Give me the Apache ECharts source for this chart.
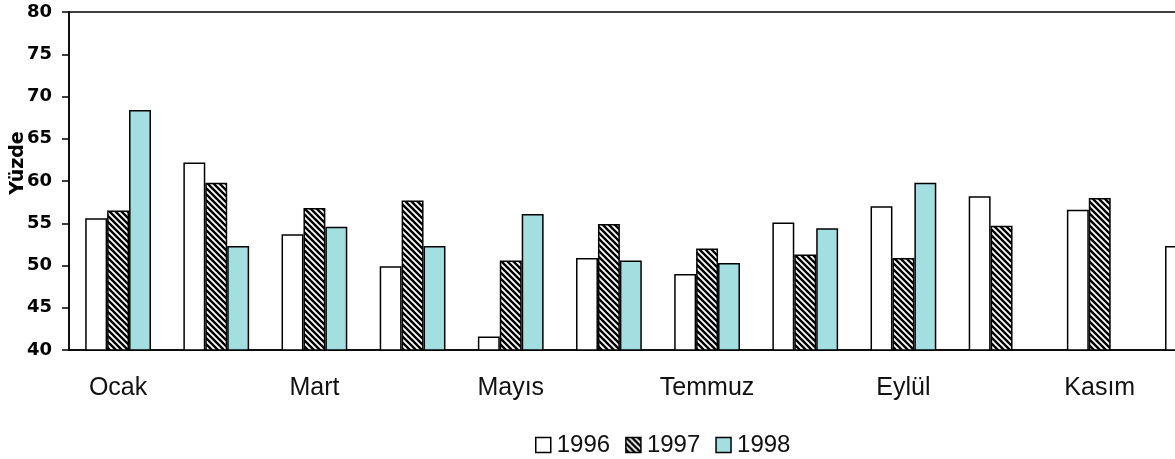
<!DOCTYPE html>
<html>
<head>
<meta charset="utf-8">
<script src="https://cdn.jsdelivr.net/npm/echarts@6/dist/echarts.min.js"></script>
<style>
  html, body { margin: 0; padding: 0; background: #fff; }
  #chart { width: 1175px; height: 459px; }
</style>
</head>
<body>
<div id="chart"></div>
<script>
// aylar
const months = ['Ocak', 'Şubat', 'Mart', 'Nisan', 'Mayıs', 'Haziran', 'Temmuz', 'Ağustos', 'Eylül', 'Ekim', 'Kasım', 'Aralık']
const years = ['1996', '1997', '1998']
const data1996 = [55.6, 62.2, 53.7, 49.9, 41.6, 50.9, 49.0, 55.1, 57.0, 58.2, 56.6, 52.3]
const data1997 = [56.5, 59.8, 56.8, 57.7, 50.6, 54.9, 52.0, 51.3, 50.9, 54.7, 58.0, null]
const data1998 = [68.4, 52.3, 54.6, 52.3, 56.1, 50.6, 50.3, 54.4, 59.8, null, null, null]
const yTicks = { min: 40, max: 80, step: 5 }

// taralı desen (1997)
function hatch() {
  const c = document.createElement('canvas')
  c.width = 6
  c.height = 6
  const g = c.getContext('2d')
  g.fillStyle = '#fff'
  g.fillRect(0, 0, 6, 6)
  g.strokeStyle = '#000'
  g.lineWidth = 2.4
  g.beginPath()
  g.moveTo(-1, -1); g.lineTo(7, 7)
  g.moveTo(-1, 5); g.lineTo(1, 7)
  g.moveTo(5, -1); g.lineTo(7, 1)
  g.stroke()
  return { image: c, repeat: 'repeat' }
}

const fills = ['#ffffff', hatch(), '#a3dfe0']
const values = [data1996, data1997, data1998]

const chart = echarts.init(document.getElementById('chart'))
chart.setOption({
  animation: false,
  grid: {
    left: 69,
    top: 12,
    bottom: 109,
    width: 1178,
    containLabel: false,
    outerBoundsMode: 'none',
    show: true,
    borderColor: '#000',
    borderWidth: 1.5
  },
  legend: {
    left: 530,
    top: 428,
    itemWidth: 15,
    itemHeight: 15,
    itemGap: 15,
    icon: 'rect',
    textStyle: {
      fontFamily: 'Liberation Sans',
      fontSize: 24,
      color: '#111',
      padding: [0, 0, 0, 1]
    },
    itemStyle: { borderColor: '#000', borderWidth: 1.5 },
    data: years
  },
  xAxis: {
    type: 'category',
    data: months,
    axisLine: { lineStyle: { color: '#000', width: 1.5 } },
    axisTick: { length: 6, interval: 0, lineStyle: { color: '#000', width: 1.5 } },
    axisLabel: {
      interval: 1,
      margin: 26,
      fontFamily: 'Liberation Sans',
      fontSize: 25,
      color: '#111'
    }
  },
  yAxis: {
    type: 'value',
    min: yTicks.min,
    max: yTicks.max,
    interval: yTicks.step,
    name: 'Yüzde',
    nameLocation: 'middle',
    nameRotate: 90,
    nameGap: 41,
    nameMoveOverlap: false,
    nameTextStyle: {
      fontFamily: 'DejaVu Sans',
      fontWeight: 'bold',
      fontSize: 19,
      color: '#000',
      padding: [0, 0, 0, 36]
    },
    splitLine: { show: false },
    axisLine: { show: true, lineStyle: { color: '#000', width: 1.5 } },
    axisTick: { show: true, length: 7, lineStyle: { color: '#000', width: 1.5 } },
    axisLabel: {
      margin: 17,
      fontFamily: 'DejaVu Sans',
      fontWeight: 'bold',
      fontSize: 18,
      color: '#000'
    }
  },
  series: years.map((y, i) => ({
    name: y,
    type: 'bar',
    data: values[i],
    barGap: '0%',
    barCategoryGap: '33%',
    itemStyle: { color: fills[i], borderColor: '#000', borderWidth: 1.5 }
  }))
})
</script>
</body>
</html>
